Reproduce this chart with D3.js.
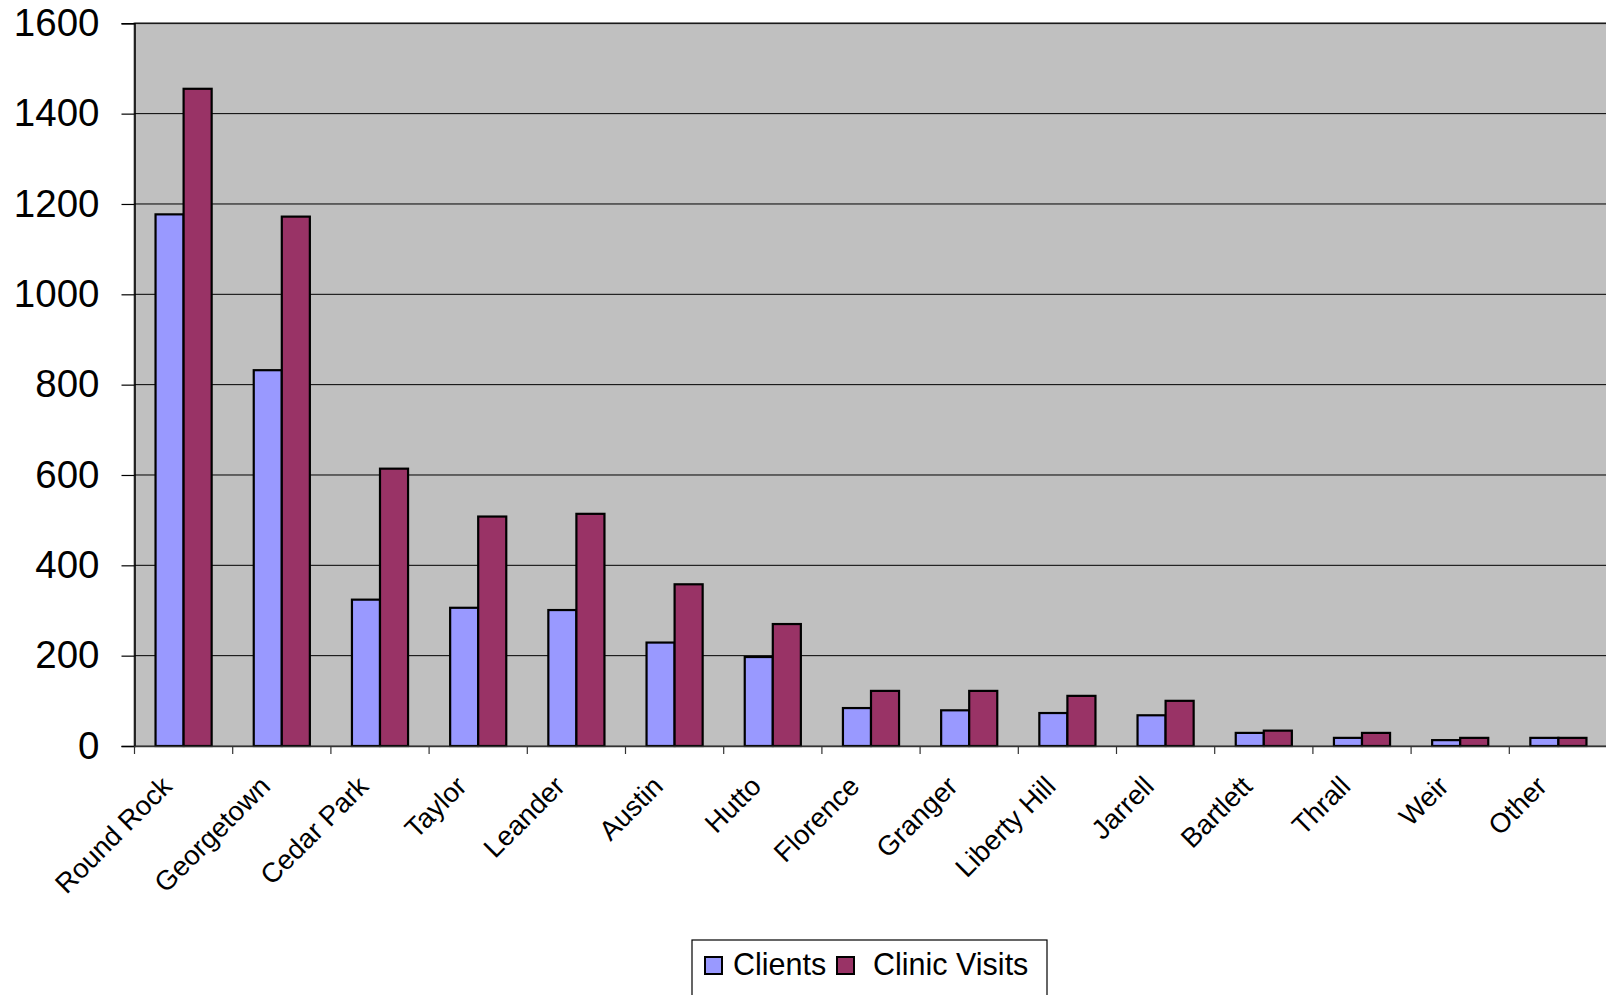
<!DOCTYPE html>
<html>
<head>
<meta charset="utf-8">
<script src="https://cdn.jsdelivr.net/npm/d3@7"></script>
<style>
  body { margin: 0; background: #fff; }
  svg { display: block; font-family: "Liberation Sans", Arial, sans-serif; }
</style>
</head>
<body>
<svg id="chart" width="1606" height="995"></svg>
<script>
const cities = ["Round Rock", "Georgetown", "Cedar Park", "Taylor", "Leander", "Austin", "Hutto",
  "Florence", "Granger", "Liberty Hill", "Jarrell", "Bartlett", "Thrall", "Weir", "Other"];
const clients = [1177, 832, 324, 306, 301, 229, 197, 84, 79, 73, 68, 29, 18, 13, 18];
const visits  = [1455, 1172, 614, 508, 514, 358, 270, 122, 122, 111, 100, 34, 29, 18, 18];
const seriesNames = ["Clients", "Clinic Visits"];
const seriesColors = ["#9999FF", "#993366"];
const yTicks = [0, 200, 400, 600, 800, 1000, 1200, 1400, 1600];

const svg = d3.select("#chart");
const plotLeft = 134.5, plotTop = 23.3, plotBottom = 746;
const bandW = 98.2;
const plotRight = plotLeft + bandW * cities.length;

const x = d3.scaleBand().domain(cities).range([plotLeft, plotRight]).paddingInner(0).paddingOuter(0);
const y = d3.scaleLinear().domain([0, 1600]).range([plotBottom, plotTop]);

// plot background
svg.append("rect")
  .attr("x", plotLeft).attr("y", plotTop)
  .attr("width", plotRight - plotLeft).attr("height", plotBottom - plotTop)
  .attr("fill", "#C0C0C0")
  .attr("stroke", "#808080").attr("stroke-width", 2);

// gridlines
svg.append("g").selectAll("line")
  .data(yTicks.filter(d => d > 0))
  .enter().append("line")
  .attr("x1", plotLeft).attr("x2", plotRight)
  .attr("y1", d => y(d)).attr("y2", d => y(d))
  .attr("stroke", "#000").attr("stroke-width", 1);

// bars
const barW = bandW / 3.5;
const series = [clients, visits];
series.forEach((vals, si) => {
  svg.append("g").selectAll("rect")
    .data(vals)
    .enter().append("rect")
    .attr("x", (d, i) => x(cities[i]) + bandW * 0.75 / 3.5 + si * barW)
    .attr("y", d => y(d))
    .attr("width", barW)
    .attr("height", d => plotBottom - y(d))
    .attr("fill", seriesColors[si])
    .attr("stroke", "#000").attr("stroke-width", 2.2);
});

// y axis
const yAxis = svg.append("g")
  .attr("transform", `translate(${plotLeft},0)`)
  .call(d3.axisLeft(y).tickValues(yTicks).tickSize(13).tickPadding(22).tickFormat(d3.format("d")));
yAxis.select(".domain").attr("stroke", "#000").attr("stroke-width", 1.5);
yAxis.selectAll(".tick line").attr("stroke", "#000").attr("stroke-width", 1.2);
yAxis.selectAll(".tick text")
  .attr("font-size", 38.5).attr("fill", "#000")
  .style("font-family", "Liberation Sans, Arial, sans-serif");

// x axis
const xAxis = svg.append("g")
  .attr("transform", `translate(0,${plotBottom})`)
  .call(d3.axisBottom(x).tickSize(0).tickFormat(""));
xAxis.select(".domain").attr("stroke", "#333").attr("stroke-width", 1.5);
svg.append("g").selectAll("line")
  .data(cities)
  .enter().append("line")
  .attr("x1", d => x(d)).attr("x2", d => x(d))
  .attr("y1", plotBottom).attr("y2", plotBottom + 8)
  .attr("stroke", "#333").attr("stroke-width", 1.2);

svg.append("g").selectAll("text")
  .data(cities)
  .enter().append("text")
  .attr("transform", d => `translate(${x(d) + bandW / 2 - 10},${plotBottom + 42}) rotate(-45)`)
  .attr("text-anchor", "end")
  .attr("font-size", 27.5)
  .attr("fill", "#000")
  .text(d => d);

// legend
const lg = svg.append("g").attr("transform", "translate(692,940)");
lg.append("rect")
  .attr("width", 355).attr("height", 70)
  .attr("fill", "#fff").attr("stroke", "#000").attr("stroke-width", 1.2);
const items = [{ n: seriesNames[0], c: seriesColors[0], sx: 13, tx: 41 },
               { n: seriesNames[1], c: seriesColors[1], sx: 145, tx: 181 }];
items.forEach(it => {
  lg.append("rect")
    .attr("x", it.sx).attr("y", 17)
    .attr("width", 17).attr("height", 17)
    .attr("fill", it.c).attr("stroke", "#000").attr("stroke-width", 2);
  lg.append("text")
    .attr("x", it.tx).attr("y", 35)
    .attr("font-size", 30.5).attr("fill", "#000")
    .text(it.n);
});
</script>
</body>
</html>
